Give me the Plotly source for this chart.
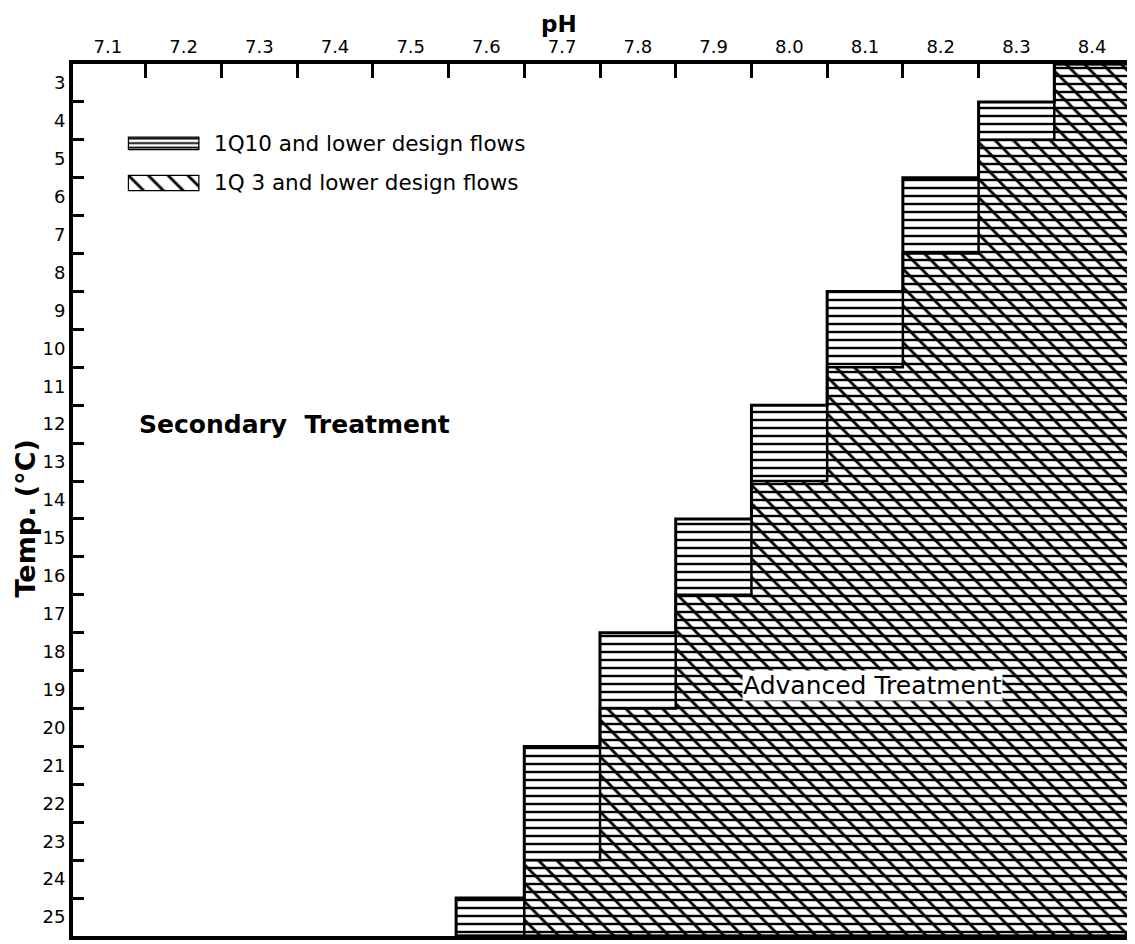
import plotly.graph_objects as go

# ---- data ----
ph_labels = [7.1, 7.2, 7.3, 7.4, 7.5, 7.6, 7.7, 7.8, 7.9, 8.0, 8.1, 8.2, 8.3, 8.4]
ph_ticks = [7.15, 7.25, 7.35, 7.45, 7.55, 7.65, 7.75, 7.85, 7.95, 8.05, 8.15, 8.25, 8.35]
temp_labels = list(range(3, 26))
temp_ticks = [t + 0.5 for t in range(3, 25)]

# left pH edge of each step column and the temperature where each zone begins
step_ph_left = [7.56, 7.65, 7.75, 7.85, 7.95, 8.05, 8.15, 8.25, 8.35]
q10_top = [24.5, 20.5, 17.5, 14.5, 11.5, 8.5, 5.5, 3.5, 2.5]
q3_top = [25.5, 23.5, 19.5, 16.5, 13.5, 10.5, 7.5, 4.5, 2.5]
ph_max = 8.45
temp_min, temp_max = 2.5, 25.5

FONT = "DejaVu Sans"


def step_polygon(lefts, tops, right, bottom):
    xs = [lefts[0]]
    ys = [bottom]
    for i, top in enumerate(tops):
        x0 = lefts[i]
        x1 = lefts[i + 1] if i + 1 < len(lefts) else right
        xs += [x0, x1]
        ys += [top, top]
    xs += [right, lefts[0]]
    ys += [bottom, bottom]
    return xs, ys


fig = go.Figure()

x10, y10 = step_polygon(step_ph_left, q10_top, ph_max, temp_max)
fig.add_trace(go.Scatter(
    x=x10, y=y10, mode="lines", fill="toself",
    fillcolor="rgba(0,0,0,0)",
    fillpattern=dict(shape="-", size=8, solidity=0.3, fgcolor="black",
                     bgcolor="white", fillmode="replace"),
    line=dict(color="black", width=3), showlegend=False, hoverinfo="skip"))

x3, y3 = step_polygon(step_ph_left, q3_top, ph_max, temp_max)
fig.add_trace(go.Scatter(
    x=x3, y=y3, mode="lines", fill="toself",
    fillcolor="rgba(0,0,0,0)",
    fillpattern=dict(shape="\\", size=13, solidity=0.22, fgcolor="black",
                     bgcolor="rgba(0,0,0,0)", fillmode="replace"),
    line=dict(color="black", width=2.5), showlegend=False, hoverinfo="skip"))

# legend keys drawn as bars on small helper axes
fig.add_trace(go.Bar(
    x=[0.5], y=[1], width=[1], xaxis="x2", yaxis="y2",
    marker=dict(color="black", line=dict(color="black", width=2.5),
                pattern=dict(shape="-", size=4.5, solidity=0.4, fgcolor="black",
                             bgcolor="white", fillmode="replace")),
    showlegend=False, hoverinfo="skip"))
fig.add_trace(go.Bar(
    x=[0.5], y=[1], width=[1], xaxis="x3", yaxis="y3",
    marker=dict(color="black", line=dict(color="black", width=2.5),
                pattern=dict(shape="\\", size=14, solidity=0.2, fgcolor="black",
                             bgcolor="white", fillmode="replace")),
    showlegend=False, hoverinfo="skip"))

axis_common = dict(showline=True, linewidth=4, linecolor="black", mirror=True,
                   showgrid=False, zeroline=False, fixedrange=True)
helper = dict(range=[0, 1], visible=False, fixedrange=True)

# page body has an 8px margin, so the figure is 8px smaller than the window
fig.update_layout(
    width=1127, height=936,
    margin=dict(l=65, r=5, t=56, b=4),
    paper_bgcolor="white", plot_bgcolor="white",
    font=dict(family=FONT, color="black"),
    showlegend=False,
    xaxis=dict(range=[7.054, 8.446], side="top",
               tickvals=ph_labels, ticktext=[f"{v:.1f}" for v in ph_labels],
               ticks="", tickfont=dict(size=18, family=FONT),
               minor=dict(tickvals=ph_ticks, ticks="inside", ticklen=14,
                          tickwidth=3, tickcolor="black", showgrid=False),
               **axis_common),
    yaxis=dict(range=[temp_max, temp_min],
               tickvals=temp_labels, ticktext=[str(t) for t in temp_labels],
               ticks="", tickfont=dict(size=18, family=FONT),
               minor=dict(tickvals=temp_ticks, ticks="inside", ticklen=11,
                          tickwidth=3, tickcolor="black", showgrid=False),
               **axis_common),
    xaxis2=dict(domain=[0.052, 0.120], anchor="y2", **helper),
    yaxis2=dict(domain=[0.901, 0.917], anchor="x2", **helper),
    xaxis3=dict(domain=[0.052, 0.120], anchor="y3", **helper),
    yaxis3=dict(domain=[0.854, 0.873], anchor="x3", **helper),
)

annotations = [
    dict(text="<b>pH</b>", x=0.461, y=1, xref="paper", yref="paper",
         xanchor="center", yanchor="middle", yshift=40, showarrow=False,
         font=dict(size=23, family=FONT)),
    dict(text="<b>Temp. (°C)</b>", x=-0.0454, y=0.479, xref="paper", yref="paper",
         xanchor="center", yanchor="middle",
         textangle=-90, showarrow=False, font=dict(size=27, family=FONT)),
    dict(text="1Q10 and lower design flows", x=0.132, y=0.909,
         xref="paper", yref="paper", xanchor="left", yanchor="middle",
         showarrow=False, font=dict(size=21.5, family=FONT)),
    dict(text="1Q 3 and lower design flows", x=0.132, y=0.864,
         xref="paper", yref="paper", xanchor="left", yanchor="middle",
         showarrow=False, font=dict(size=21.5, family=FONT)),
    dict(text="<b>Secondary  Treatment</b>", x=7.347, y=12.0, xref="x", yref="y",
         xanchor="center", yanchor="middle",
         showarrow=False, font=dict(size=25, family=FONT)),
    dict(text="Advanced Treatment", x=8.11, y=18.9, xref="x", yref="y",
         xanchor="center", yanchor="middle",
         showarrow=False, bgcolor="white", borderpad=0,
         font=dict(size=25, family=FONT)),
]
fig.update_layout(annotations=annotations)

fig.write_html("out.html")
